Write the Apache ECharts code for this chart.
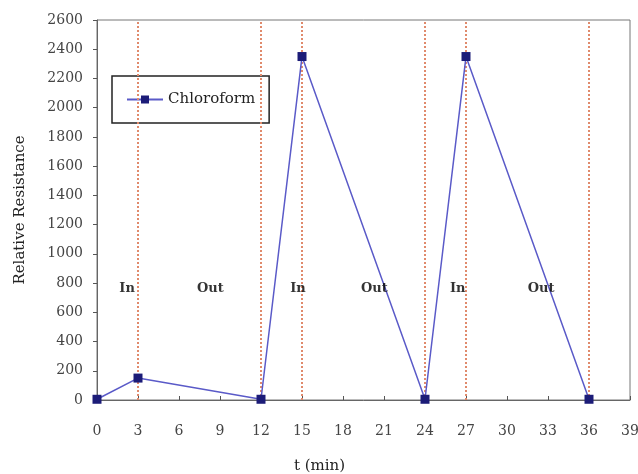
<!DOCTYPE html>
<html><head><meta charset="utf-8">
<script src="https://cdn.jsdelivr.net/npm/echarts@6/dist/echarts.min.js"></script>
<style>html,body{margin:0;padding:0;background:#fff}#c{width:638px;height:474px}</style>
</head><body><div id="c"></div>
<script>
const times = [0, 3, 12, 15, 24, 27, 36];
const resistance = [5, 150, 5, 2350, 5, 2350, 5];
const switchTimes = [3, 12, 15, 24, 27, 36];
const phaseX = [2.2, 8.3, 14.7, 20.3, 26.4, 32.5];
const phaseY = [760, 760, 760, 760, 760, 760];
const phaseText = ['In', 'Out', 'In', 'Out', 'In', 'Out'];
const xTicks = [0, 3, 6, 9, 12, 15, 18, 21, 24, 27, 30, 33, 36, 39];
const yTicks = [0, 200, 400, 600, 800, 1000, 1200, 1400, 1600, 1800, 2000, 2200, 2400, 2600];

const FONT = 'DejaVu Serif';
const chart = echarts.init(document.getElementById('c'), null, {renderer: 'canvas'});
chart.setOption({
  animation: false,
  textStyle: {fontFamily: FONT},
  grid: {left: 97, right: 8, top: 20, bottom: 74, show: true, borderColor: '#777', borderWidth: 1,
         backgroundColor: '#fff', containLabel: false, outerBoundsMode: 'none'},
  legend: {
    data: ['Chloroform'], left: 112, top: 76, width: 153, height: 50,
    padding: [16, 14, 16, 14], borderColor: '#222', borderWidth: 1.5,
    itemWidth: 36, itemHeight: 10,
    textStyle: {fontFamily: FONT, fontSize: 15, color: '#222'}
  },
  xAxis: {
    type: 'value', min: xTicks[0], max: xTicks[xTicks.length - 1], interval: 3,
    name: 't (min)', nameLocation: 'middle', nameGap: 59,
    nameTextStyle: {fontFamily: FONT, fontSize: 15, color: '#222', padding: [0, 88, 0, 0]},
    axisLine: {lineStyle: {color: '#666'}},
    axisTick: {inside: true, length: 4, lineStyle: {color: '#555'}},
    axisLabel: {fontFamily: FONT, fontSize: 14, color: '#444', margin: 24},
    splitLine: {show: false}
  },
  yAxis: {
    type: 'value', min: yTicks[0], max: yTicks[yTicks.length - 1], interval: 200,
    name: 'Relative Resistance', nameLocation: 'middle', nameGap: 69, nameRotate: 90,
    nameTextStyle: {fontFamily: FONT, fontSize: 15, color: '#222'},
    axisLine: {show: true, lineStyle: {color: '#666'}},
    axisTick: {show: true, length: 4, lineStyle: {color: '#555'}},
    axisLabel: {fontFamily: FONT, fontSize: 14, color: '#444', margin: 14, formatter: v => String(v)},
    splitLine: {show: false}
  },
  series: [
    {
      name: 'Chloroform', type: 'line',
      data: times.map((t, i) => [t, resistance[i]]),
      symbol: 'rect', symbolSize: 9,
      lineStyle: {color: '#5a5ac8', width: 1.5},
      itemStyle: {color: '#1c1c78', borderWidth: 0},
      z: 5,
      markLine: {
        silent: true, symbol: 'none', animation: false,
        label: {show: false},
        lineStyle: {color: '#e08a6c', type: [2, 2], width: 2},
        data: switchTimes.map(t => ({xAxis: t}))
      }
    },
    {
      name: 'phase', type: 'scatter', symbolSize: 0,
      data: phaseX.map((x, i) => ({value: [x, phaseY[i]], name: phaseText[i]})),
      label: {show: true, position: 'inside', formatter: p => p.name,
              fontFamily: FONT, fontSize: 13, fontWeight: 'bold', color: '#000'},
      z: 6
    }
  ]
});
</script></body></html>
